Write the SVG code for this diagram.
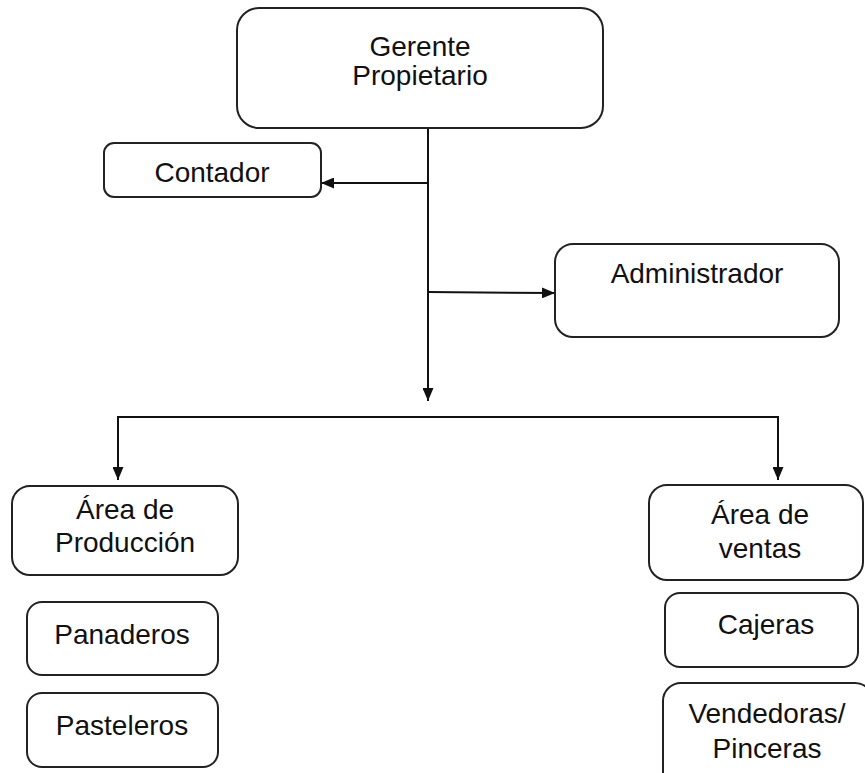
<svg xmlns="http://www.w3.org/2000/svg" width="865" height="773" viewBox="0 0 865 773">
<style>
.box{fill:#fff;stroke:#222;stroke-width:2}
.t{font-family:"Liberation Sans",Arial,sans-serif;font-size:28px;fill:#111;text-anchor:middle}
.c{stroke:#111;stroke-width:2;fill:none}
</style>
<defs>
<marker id="ah" viewBox="0 0 13 11" refX="13" refY="5.5" markerWidth="13" markerHeight="11" markerUnits="userSpaceOnUse" orient="auto">
<path d="M0,0 L13,5.5 L0,11 Z" fill="#111"/>
</marker>
</defs>
<rect width="865" height="773" fill="#fff"/>
<g id="connectors">
<line class="c" x1="428" y1="128" x2="428" y2="401" marker-end="url(#ah)"/>
<line class="c" x1="428" y1="183" x2="321" y2="183" marker-end="url(#ah)"/>
<line class="c" x1="428" y1="292" x2="555" y2="293" marker-end="url(#ah)"/>
<polyline class="c" points="118,477 118,417 778,417 778,477"/>
<line class="c" x1="118" y1="417" x2="118" y2="480" marker-end="url(#ah)"/>
<line class="c" x1="778" y1="417" x2="778" y2="480" marker-end="url(#ah)"/>
</g>
<g id="gerente">
<rect class="box" x="237" y="8" width="366" height="120" rx="22"/>
<text class="t" x="420" y="56">Gerente</text>
<text class="t" x="420" y="85">Propietario</text>
</g>
<g id="contador">
<rect class="box" x="104" y="143" width="217" height="54" rx="10"/>
<text class="t" x="212" y="182">Contador</text>
</g>
<g id="administrador">
<rect class="box" x="555" y="244" width="284" height="93" rx="18"/>
<text class="t" x="697" y="283">Administrador</text>
</g>
<g id="area-produccion">
<rect class="box" x="12" y="486" width="226" height="89" rx="18"/>
<text class="t" x="125" y="519">Área de</text>
<text class="t" x="125" y="552">Producción</text>
</g>
<g id="panaderos">
<rect class="box" x="27" y="602" width="191" height="73" rx="15"/>
<text class="t" x="122" y="644">Panaderos</text>
</g>
<g id="pasteleros">
<rect class="box" x="27" y="693" width="191" height="74" rx="15"/>
<text class="t" x="122" y="735">Pasteleros</text>
</g>
<g id="area-ventas">
<rect class="box" x="649" y="485" width="214" height="95" rx="18"/>
<text class="t" x="760" y="524">Área de</text>
<text class="t" x="760" y="558">ventas</text>
</g>
<g id="cajeras">
<rect class="box" x="665" y="593" width="193" height="74" rx="15"/>
<text class="t" x="766" y="634">Cajeras</text>
</g>
<g id="vendedoras">
<rect class="box" x="663" y="683" width="210" height="110" rx="18"/>
<text class="t" x="767" y="723">Vendedoras/</text>
<text class="t" x="767" y="758">Pinceras</text>
</g>
</svg>
